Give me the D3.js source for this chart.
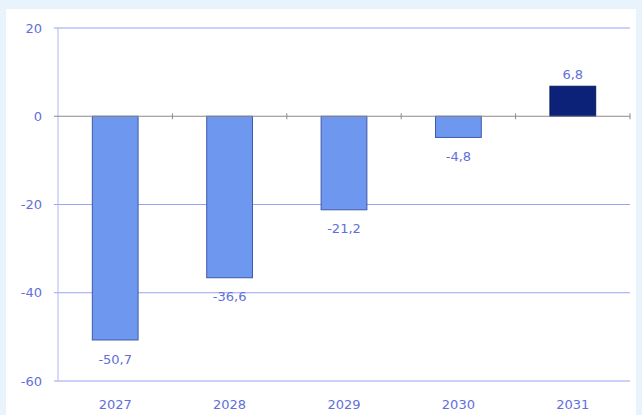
<!DOCTYPE html>
<html>
<head>
<meta charset="utf-8">
<script src="https://cdn.jsdelivr.net/npm/d3@7"></script>
<style>
  body { margin: 0; background: #e8f3fb; }
  svg { display: block; }
</style>
</head>
<body>
<svg id="chart"></svg>
<script>
const years = ["2027", "2028", "2029", "2030", "2031"];
const values = [-50.7, -36.6, -21.2, -4.8, 6.8];
const yTicks = [20, 0, -20, -40, -60];

const w = 642, h = 415;
const margin = {left: 58, right: 12, top: 28, bottom: 34};

var svg = d3.select('#chart')
  .attr('width', w)
  .attr('height', h);

// white panel
svg.append('rect')
  .attr('x', 6).attr('y', 9)
  .attr('width', 630).attr('height', h - 9)
  .attr('fill', '#ffffff');

var x = d3.scaleBand()
  .domain(years)
  .range([margin.left, w - margin.right])
  .paddingInner(0.6)
  .paddingOuter(0.3);

var xOuter = d3.scaleBand()
  .domain(years)
  .range([margin.left, w - margin.right]);

var y = d3.scaleLinear()
  .domain([-60, 20])
  .range([h - margin.bottom, margin.top]);

var textColor = '#5f6fdc';
var font = 'DejaVu Sans, Verdana, sans-serif';

// comma decimal, plain hyphen for minus
var fmt = d3.formatLocale({decimal: ',', thousands: '.', grouping: [3], currency: ['', ''], minus: '-'});

// gridlines
svg.selectAll('line.grid')
  .data(yTicks.filter(function(d){ return d !== 0; }))
  .enter()
  .append('line')
  .attr('class', 'grid')
  .attr('x1', margin.left - 4)
  .attr('x2', w - margin.right)
  .attr('y1', function(d){ return y(d); })
  .attr('y2', function(d){ return y(d); })
  .attr('stroke', '#9aa2f2')
  .attr('stroke-width', 1.2);

// left axis line
svg.append('line')
  .attr('x1', margin.left).attr('x2', margin.left)
  .attr('y1', y(20)).attr('y2', y(-60))
  .attr('stroke', '#b0b5f2')
  .attr('stroke-width', 1);

// y labels
svg.selectAll('text.ytick')
  .data(yTicks)
  .enter()
  .append('text')
  .attr('class', 'ytick')
  .attr('x', margin.left - 16)
  .attr('y', function(d){ return y(d); })
  .attr('dy', '0.35em')
  .attr('text-anchor', 'end')
  .attr('font-family', font)
  .attr('font-size', 13)
  .attr('fill', textColor)
  .text(function(d){ return fmt.format('d')(d); });

// bars
svg.selectAll('rect.bar')
  .data(values)
  .enter()
  .append('rect')
  .attr('class', 'bar')
  .attr('x', function(d, i){ return x(years[i]); })
  .attr('width', x.bandwidth())
  .attr('y', function(d){ return y(Math.max(0, d)); })
  .attr('height', function(d){ return Math.abs(y(d) - y(0)); })
  .attr('fill', function(d){ return d > 0 ? '#0c2278' : '#6e98f0'; })
  .attr('stroke', function(d){ return d > 0 ? '#0a1a5c' : '#3d5aa8'; })
  .attr('stroke-width', 1);

// zero axis
svg.append('line')
  .attr('x1', margin.left - 4)
  .attr('x2', w - margin.right)
  .attr('y1', y(0)).attr('y2', y(0))
  .attr('stroke', '#8a8a8a')
  .attr('stroke-width', 1);

svg.selectAll('line.xtick')
  .data(years.slice(1).concat(['end']))
  .enter()
  .append('line')
  .attr('class', 'xtick')
  .attr('x1', function(d, i){ return margin.left + xOuter.step() * (i + 1); })
  .attr('x2', function(d, i){ return margin.left + xOuter.step() * (i + 1); })
  .attr('y1', y(0) - 3)
  .attr('y2', y(0) + 3)
  .attr('stroke', '#8a8a8a');

// value labels
svg.selectAll('text.val')
  .data(values)
  .enter()
  .append('text')
  .attr('class', 'val')
  .attr('x', function(d, i){ return x(years[i]) + x.bandwidth() / 2; })
  .attr('y', function(d){ return d > 0 ? y(d) - 12 : y(d) + 19; })
  .attr('dy', '0.35em')
  .attr('text-anchor', 'middle')
  .attr('font-family', font)
  .attr('font-size', 13)
  .attr('fill', textColor)
  .text(function(d){ return fmt.format('.1f')(d); });

// x labels
svg.selectAll('text.xlab')
  .data(years)
  .enter()
  .append('text')
  .attr('class', 'xlab')
  .attr('x', function(d){ return xOuter(d) + xOuter.bandwidth() / 2; })
  .attr('y', 404)
  .attr('dy', '0.35em')
  .attr('text-anchor', 'middle')
  .attr('font-family', font)
  .attr('font-size', 13)
  .attr('fill', textColor)
  .text(function(d){ return d; });
</script>
</body>
</html>
